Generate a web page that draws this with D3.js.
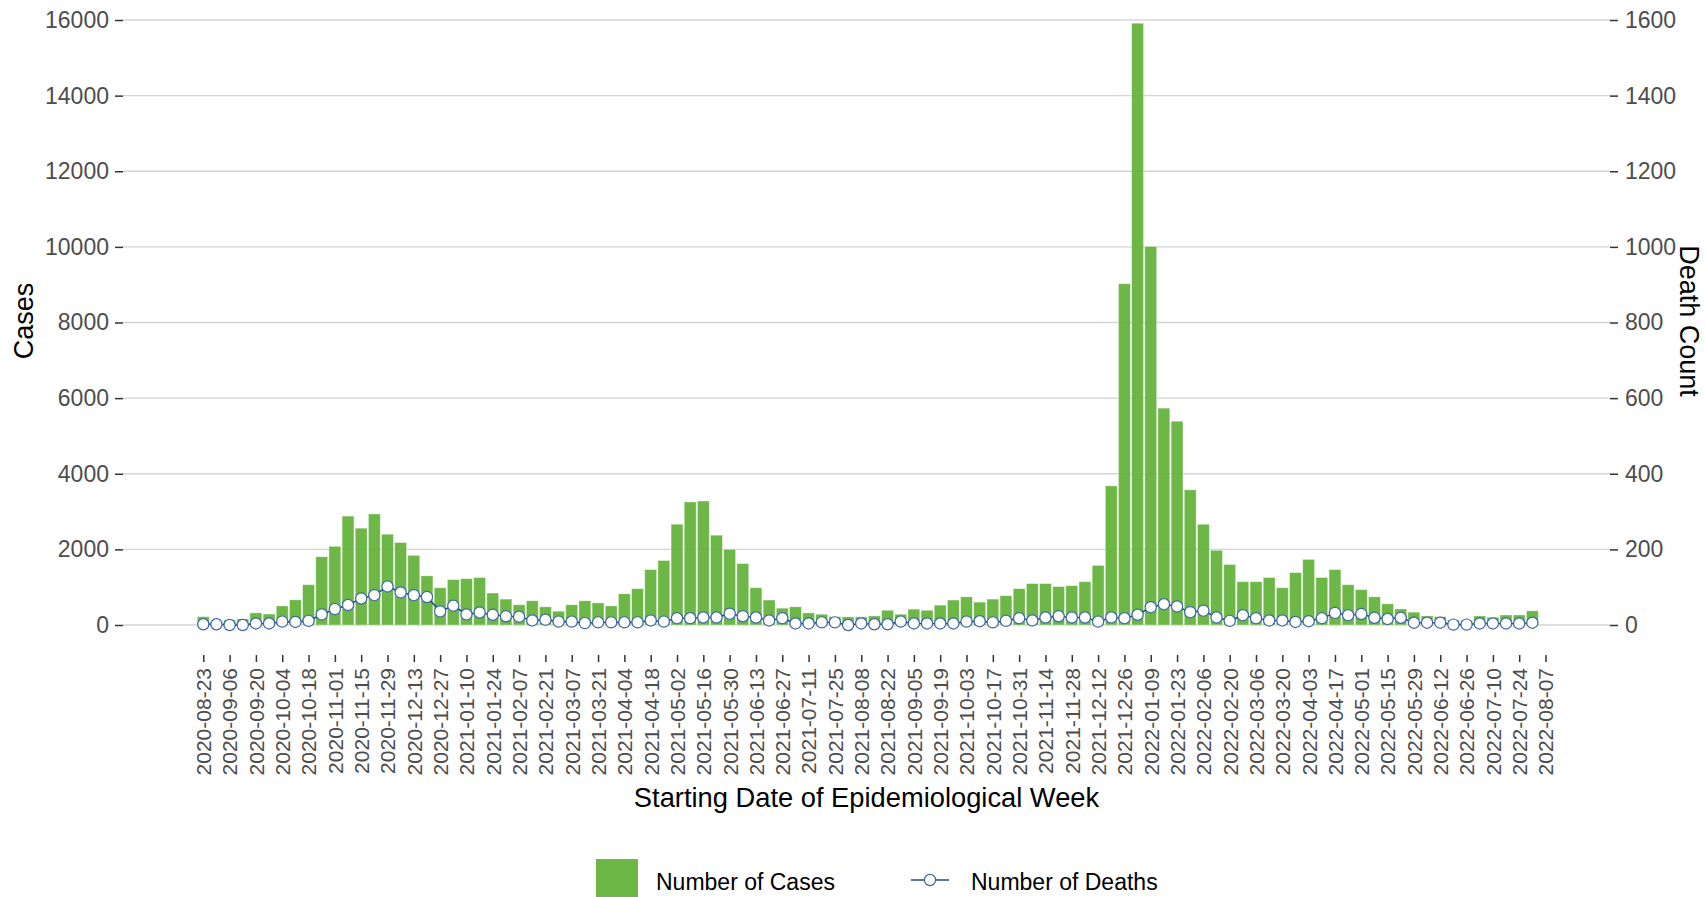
<!DOCTYPE html>
<html>
<head>
<meta charset="utf-8">
<script src="https://cdn.jsdelivr.net/npm/d3@7"></script>
<style>
  body { margin: 0; background: #fff; }
  svg { display: block; font-family: "Liberation Sans", Arial, sans-serif; }
  .grid line { stroke: #d4d4d4; stroke-width: 1.4; }
  .axis text { fill: #4d4d4d; }
  .axis line { stroke: #333; stroke-width: 1.5; }
</style>
</head>
<body>
<svg id="chart" width="1705" height="897"></svg>
<script>
// first epidemiological week shown, one bar per week after it
const firstWeek = "2020-08-23";

// weekly case counts (left axis)
const cases = [
  220, 60, 130, 160, 320, 290, 505, 665, 1065, 1805,
  2080, 2880, 2560, 2935, 2400, 2180, 1840, 1300, 985, 1200,
  1225, 1255, 845, 685, 535, 640, 480, 365, 535, 640,
  585, 505, 825, 960, 1465, 1705, 2665, 3255, 3280, 2375,
  2000, 1625, 985, 660, 445, 480, 320, 285, 220, 215,
  215, 240, 390, 285, 420, 390, 525, 660, 745, 605,
  685, 775, 960, 1095, 1095, 1015, 1040, 1145, 1575, 3680,
  9025, 15915, 10010, 5735, 5390, 3575, 2665, 1975, 1600, 1145,
  1145, 1255, 985, 1385, 1735, 1255, 1465, 1065, 935, 745,
  560, 425, 340, 240, 220, 130, 115, 240, 205, 265,
  265, 375
];

// weekly death counts (right axis)
const deaths = [
  2, 2, 0, 0, 4, 4, 9, 8, 11, 28,
  42, 53, 70, 79, 102, 86, 79, 74, 36, 51,
  28, 33, 27, 23, 22, 12, 14, 9, 9, 5,
  7, 7, 7, 7, 12, 9, 18, 18, 20, 20,
  30, 23, 20, 12, 18, 4, 4, 7, 7, 0,
  4, 2, 2, 9, 4, 4, 4, 4, 9, 10,
  7, 11, 18, 12, 20, 23, 20, 20, 9, 20,
  18, 27, 47, 55, 49, 34, 38, 20, 11, 26,
  18, 12, 12, 8, 10, 18, 32, 26, 29, 19,
  16, 19, 6, 6, 6, 1, 1, 4, 4, 4,
  4, 6
];

// x axis labels, every second week
const xTickLabels = [
  "2020-08-23", "2020-09-06", "2020-09-20", "2020-10-04", "2020-10-18", "2020-11-01",
  "2020-11-15", "2020-11-29", "2020-12-13", "2020-12-27", "2021-01-10", "2021-01-24",
  "2021-02-07", "2021-02-21", "2021-03-07", "2021-03-21", "2021-04-04", "2021-04-18",
  "2021-05-02", "2021-05-16", "2021-05-30", "2021-06-13", "2021-06-27", "2021-07-11",
  "2021-07-25", "2021-08-08", "2021-08-22", "2021-09-05", "2021-09-19", "2021-10-03",
  "2021-10-17", "2021-10-31", "2021-11-14", "2021-11-28", "2021-12-12", "2021-12-26",
  "2022-01-09", "2022-01-23", "2022-02-06", "2022-02-20", "2022-03-06", "2022-03-20",
  "2022-04-03", "2022-04-17", "2022-05-01", "2022-05-15", "2022-05-29", "2022-06-12",
  "2022-06-26", "2022-07-10", "2022-07-24", "2022-08-07"
];

const casesTicks = [0, 2000, 4000, 6000, 8000, 10000, 12000, 14000, 16000];
const deathTicks = [0, 200, 400, 600, 800, 1000, 1200, 1400, 1600];

const parse = d3.utcParse("%Y-%m-%d");
const start = parse(firstWeek);
const data = cases.map((c, i) => ({
  date: d3.utcSunday.offset(start, i),
  cases: c,
  deaths: deaths[i]
}));

// panel box
const panelLeft = 123, panelRight = 1610, panelTop = 20, zeroY = 625, panelBottom = 655;
const weekMs = 7 * 864e5;

const x = d3.scaleUtc()
  .domain([new Date(start.getTime() - 6.1 * weekMs),
           new Date(start.getTime() + 106.9 * weekMs)])
  .range([panelLeft, panelRight]);
const yCases = d3.scaleLinear().domain([0, 16000]).range([zeroY, panelTop]);
const yDeaths = d3.scaleLinear().domain([0, 1600]).range([zeroY, panelTop]);
const barW = (x(new Date(start.getTime() + weekMs)) - x(start)) * 0.9;

const svg = d3.select("#chart");

// horizontal grid lines
svg.append("g").attr("class", "grid")
  .selectAll("line").data(casesTicks).join("line")
  .attr("x1", panelLeft).attr("x2", panelRight)
  .attr("y1", d => yCases(d)).attr("y2", d => yCases(d));

// bars for cases
svg.append("g").selectAll("rect").data(data).join("rect")
  .attr("x", d => x(d.date) - barW / 2)
  .attr("y", d => yCases(d.cases))
  .attr("width", barW)
  .attr("height", d => zeroY - yCases(d.cases))
  .attr("fill", "#5fb136")
  .attr("fill-opacity", 0.92)
  .attr("stroke", "#ffffff")
  .attr("stroke-opacity", 0.45)
  .attr("stroke-width", 0.8);

// deaths line + points
const line = d3.line().x(d => x(d.date)).y(d => yDeaths(d.deaths));
svg.append("path").datum(data)
  .attr("d", line)
  .attr("fill", "none")
  .attr("stroke", "#21498a")
  .attr("stroke-width", 1.6);

svg.append("g").selectAll("circle").data(data).join("circle")
  .attr("cx", d => x(d.date))
  .attr("cy", d => yDeaths(d.deaths))
  .attr("r", 5.6)
  .attr("fill", "#fff")
  .attr("stroke", "#3c67aa")
  .attr("stroke-width", 1.2);

// left axis
const gl = svg.append("g").attr("class", "axis")
  .attr("transform", `translate(${panelLeft},0)`)
  .call(d3.axisLeft(yCases).tickValues(casesTicks).tickFormat(d3.format("d"))
    .tickSize(8).tickPadding(6));
gl.select(".domain").remove();
gl.selectAll("text").style("font-size", "23px");

// right axis
const gr = svg.append("g").attr("class", "axis")
  .attr("transform", `translate(${panelRight},0)`)
  .call(d3.axisRight(yDeaths).tickValues(deathTicks).tickFormat(d3.format("d"))
    .tickSize(8).tickPadding(7));
gr.select(".domain").remove();
gr.selectAll("text").style("font-size", "23px");

// bottom axis, rotated labels
const tickDates = xTickLabels.map(parse);
const gb = svg.append("g").attr("class", "axis")
  .attr("transform", `translate(0,${panelBottom})`)
  .call(d3.axisBottom(x).tickValues(tickDates).tickSize(7)
    .tickFormat(d3.utcFormat("%Y-%m-%d")));
gb.select(".domain").remove();
gb.selectAll("text")
  .attr("y", 0)
  .attr("x", -13)
  .attr("dy", "0.35em")
  .attr("transform", "rotate(-90)")
  .style("text-anchor", "end")
  .style("font-size", "21px");

// axis titles
svg.append("text")
  .attr("transform", "translate(33,321) rotate(-90)")
  .attr("text-anchor", "middle")
  .style("font-size", "27px")
  .text("Cases");

svg.append("text")
  .attr("transform", "translate(1680,321) rotate(90)")
  .attr("text-anchor", "middle")
  .style("font-size", "27px")
  .text("Death Count");

svg.append("text")
  .attr("x", (panelLeft + panelRight) / 2)
  .attr("y", 807)
  .attr("text-anchor", "middle")
  .style("font-size", "27.3px")
  .text("Starting Date of Epidemiological Week");

// legend
const legend = svg.append("g");
legend.append("rect")
  .attr("x", 596).attr("y", 859).attr("width", 42).attr("height", 42)
  .attr("fill", "#5fb136").attr("fill-opacity", 0.92);
legend.append("text")
  .attr("x", 656).attr("y", 890)
  .style("font-size", "23px")
  .text("Number of Cases");
legend.append("line")
  .attr("x1", 911).attr("x2", 949).attr("y1", 880).attr("y2", 880)
  .attr("stroke", "#21498a").attr("stroke-width", 1.6);
legend.append("circle")
  .attr("cx", 930).attr("cy", 880).attr("r", 5.6)
  .attr("fill", "#fff").attr("stroke", "#3c67aa").attr("stroke-width", 1.2);
legend.append("text")
  .attr("x", 971).attr("y", 890)
  .style("font-size", "23px")
  .text("Number of Deaths");
</script>
</body>
</html>
